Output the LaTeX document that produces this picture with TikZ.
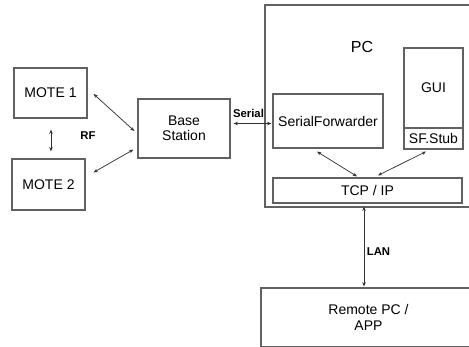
\documentclass[tikz,border=0pt]{standalone}
\usepackage{fontspec}
\setmainfont{Liberation Sans}
\usetikzlibrary{arrows.meta,calc}
\begin{document}
\begin{tikzpicture}[x=0.75pt,y=-0.75pt,
  box/.style={draw=black!62,line width=0.9pt,rectangle,inner sep=0pt,align=center,
    font=\fontsize{10.5}{11.5}\selectfont},
  arr/.style={draw=black!80,line width=0.55pt,{Stealth[length=3.2pt,width=2.6pt]}-{Stealth[length=3.2pt,width=2.6pt]}},
  lbl/.style={font=\fontsize{8.5}{10}\selectfont\bfseries,inner sep=0pt}]
\clip (0,0) rectangle (469,347);
\fill[white] (0,0) rectangle (469,347);
% left side
\node[box,minimum width=54.75pt,minimum height=37.5pt] (m1) at (50.5,93) {MOTE 1};
\node[box,minimum width=54.75pt,minimum height=38.25pt] (m2) at (48.5,184.5) {MOTE 2};
\node[box,minimum width=69pt,minimum height=44.25pt] (base) at (184,128.5) {Base\\Station};
% PC
\node[box,minimum width=161.25pt,minimum height=151.5pt] (pc) at (372.5,106) {};
\node[font=\fontsize{12}{14}\selectfont,inner sep=0pt] (pclabel) at (362,47) {PC};
\node[box,minimum width=82.5pt,minimum height=40.5pt] (sf) at (328,121) {SerialForwarder};
\node[box,minimum width=44.25pt,minimum height=60pt] (gui) at (433.5,88) {GUI};
\node[box,minimum width=44.25pt,minimum height=15.75pt] (stub) at (433.5,138.5) {SF.Stub};
\node[box,minimum width=141.75pt,minimum height=18.75pt] (tcp) at (367.5,190.5) {TCP / IP};
% remote
\node[box,minimum width=161.25pt,minimum height=44.25pt] (remote) at (368.5,317.5) {Remote PC /\\APP};
% connectors
\draw[arr] ([shift={(0.5,11)}]m1.south) -- ([shift={(0.5,-7)}]m1.south |- m2.north);
\draw[arr] ([shift={(6,1)}]m1.east) -- ([shift={(-3,2.5)}]base.west);
\draw[arr] ([shift={(8,14)}]m2.north east) -- ([shift={(-4,-9)}]base.south west);
\draw[arr] ([shift={(3,-5)}]base.east) -- ([shift={(-1,2.5)}]sf.west);
\draw[arr] ([shift={(-11,3)}]sf.south) -- ([shift={(-10.5,-1)}]tcp.north);
\draw[arr] ([shift={(-7.5,2)}]stub.south) -- ([shift={(10.5,-2)}]tcp.north);
\draw[arr] ([shift={(-3.5,3)}]tcp.south) -- ([shift={(-3.5,-1)}]tcp.south |- remote.north);
% labels
\node[lbl] (rf) at (88,136) {RF};
\node[lbl] (serial) at (248.5,113) {Serial};
\node[lbl] (lan) at (378.5,252) {LAN};
\end{tikzpicture}
\end{document}
